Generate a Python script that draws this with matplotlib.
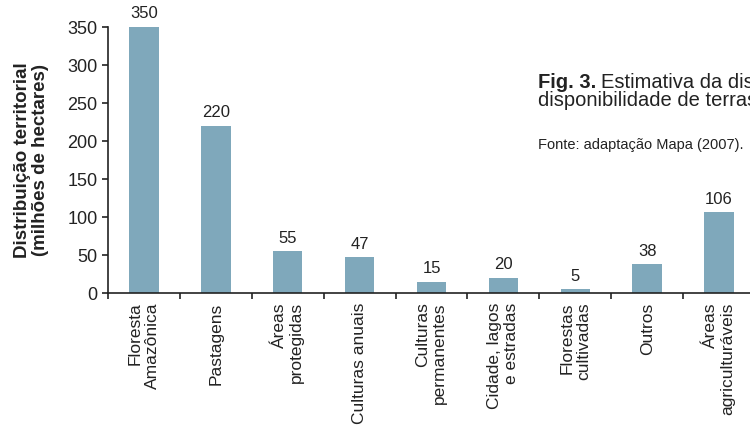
import matplotlib.pyplot as plt
import numpy as np

plt.rcParams['font.family'] = ['Liberation Sans', 'DejaVu Sans']

# land use categories (milhões de hectares)
categorias = ['Floresta\nAmazônica', 'Pastagens', 'Áreas\nprotegidas',
              'Culturas anuais', 'Culturas\npermanentes', 'Cidade, lagos\ne estradas',
              'Florestas\ncultivadas', 'Outros', 'Áreas\nagricultur\u00e1veis']
valores = [350, 220, 55, 47, 15, 20, 5, 38, 106]
yticks = [0, 50, 100, 150, 200, 250, 300, 350]

cor_barra = '#7fa8bb'
cor_texto = '#222222'

fig = plt.figure(figsize=(7.5, 4.29), dpi=100)
ax = fig.add_axes([108 / 750, 136 / 429, 647 / 750, 266 / 429])

x = np.arange(len(valores)) + 0.5
ax.bar(x, valores, width=0.41, color=cor_barra)

for xi, v in zip(x, valores):
    ax.annotate(str(v), (xi, v), xytext=(0, 4), textcoords='offset points',
                ha='center', va='bottom', fontsize=12, color=cor_texto)

ax.set_xlim(0, len(valores))
ax.set_ylim(0, 350)
ax.set_yticks(yticks)
ax.set_xticks(np.arange(len(valores)))
ax.set_xticklabels([])

for xi, cat in zip(x, categorias):
    ax.text(xi, -0.035, cat, transform=ax.get_xaxis_transform(), rotation=90,
            ha='center', va='top', multialignment='right', fontsize=12.5,
            color=cor_texto, linespacing=1.15)

for s in ['top', 'right']:
    ax.spines[s].set_visible(False)
for s in ['left', 'bottom']:
    ax.spines[s].set_linewidth(1.2)
    ax.spines[s].set_color(cor_texto)
ax.tick_params(axis='both', length=4, width=1.2, color=cor_texto,
               labelsize=13, labelcolor=cor_texto)

ax.set_ylabel('Distribuição territorial\n(milhões de hectares)', fontsize=13.5,
              fontweight='bold', color=cor_texto, labelpad=13, linespacing=1.1)

# caption: bold figure number followed by the description
t_fig = fig.text(538 / 750, 1 - 88 / 429, 'Fig. 3.', fontsize=14.5,
                 fontweight='bold', color=cor_texto, va='baseline')
fig.canvas.draw()
x_fim = t_fig.get_window_extent().x1 / fig.bbox.width
fig.text(x_fim + 5 / 750, 1 - 88 / 429, 'Estimativa da distribuição e',
         fontsize=14.5, color=cor_texto, va='baseline')
fig.text(538 / 750, 1 - 106 / 429, 'disponibilidade de terras no Brasil.',
         fontsize=14.5, color=cor_texto, va='baseline')
fig.text(538 / 750, 1 - 149 / 429, 'Fonte: adaptação Mapa (2007).', fontsize=10.5,
         color=cor_texto, va='baseline')

fig.savefig('out.png', dpi=100)
